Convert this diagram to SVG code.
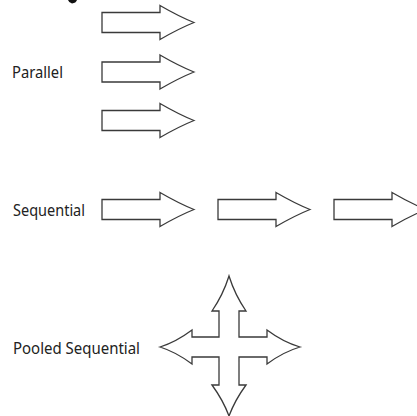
<svg xmlns="http://www.w3.org/2000/svg" width="417" height="416" viewBox="0 0 417 416">
  <style>
    .arrow { fill: #ffffff; stroke: #3a3a3a; stroke-width: 1.3; stroke-linejoin: miter; }
    .label { font-family: "Noto Sans", "Open Sans", "Liberation Sans", sans-serif; font-size: 15.5px; fill: #222222; }
  </style>
  <defs>
    <path id="rarrow" d="M0,-10 L58,-10 L58,-17 Q77,-6 92,0 Q77,6 58,17 L58,10 L0,10 Z"/>
  </defs>
  <rect x="0" y="0" width="417" height="416" fill="#ffffff"/>
  <path d="M68,0 L77,0 Q76,3 72,3.5 Q69,3 68,0 Z" fill="#111111"/>

  <g id="parallel-label">
    <text class="label" x="12" y="78" textLength="51" lengthAdjust="spacingAndGlyphs">Parallel</text>
  </g>
  <g id="parallel-arrow-1">
    <use href="#rarrow" class="arrow" transform="translate(102,22.5)"/>
  </g>
  <g id="parallel-arrow-2">
    <use href="#rarrow" class="arrow" transform="translate(102,72)"/>
  </g>
  <g id="parallel-arrow-3">
    <use href="#rarrow" class="arrow" transform="translate(102,120.5)"/>
  </g>

  <g id="sequential-label">
    <text class="label" x="13" y="216" textLength="72" lengthAdjust="spacingAndGlyphs">Sequential</text>
  </g>
  <g id="sequential-arrow-1">
    <use href="#rarrow" class="arrow" transform="translate(102,209.5)"/>
  </g>
  <g id="sequential-arrow-2">
    <use href="#rarrow" class="arrow" transform="translate(218,209.5)"/>
  </g>
  <g id="sequential-arrow-3">
    <use href="#rarrow" class="arrow" transform="translate(334,209.5)"/>
  </g>

  <g id="pooled-label">
    <text class="label" x="13" y="354" textLength="127" lengthAdjust="spacingAndGlyphs">Pooled Sequential</text>
  </g>
  <g id="pooled-cross">
    <path class="arrow" d="M229,276 Q235,295 246,311 L239,311 L239,337 L267,337 L267,330 Q283,342 300,347 Q283,352 267,364 L267,357 L239,357 L239,385 L246,385 Q235,400 229,416 Q223,400 212,385 L219,385 L219,357 L192,357 L192,364 Q176,352 160,347 Q176,342 192,330 L192,337 L219,337 L219,311 L212,311 Q223,295 229,276 Z"/>
  </g>
  <g id="connectors"></g>
</svg>
